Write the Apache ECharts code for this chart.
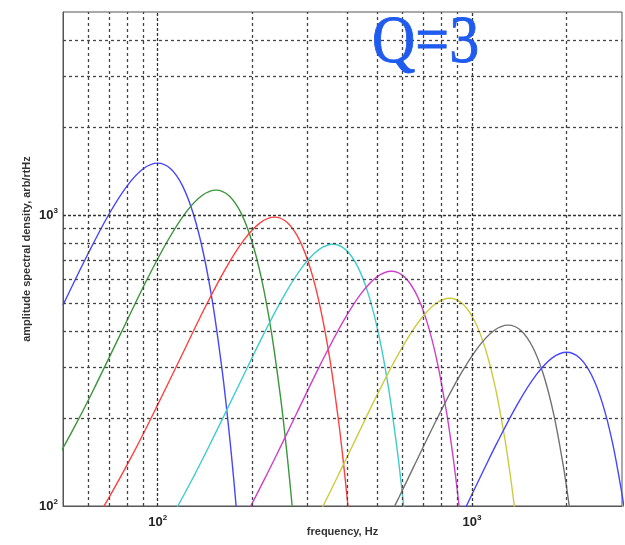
<!DOCTYPE html>
<html>
<head>
<meta charset="utf-8">
<script src="https://cdn.jsdelivr.net/npm/echarts@6/dist/echarts.min.js"></script>
<style>
  html, body { margin: 0; padding: 0; background: #ffffff; }
  #chart { width: 625px; height: 545px; }
</style>
</head>
<body>
<div id="chart"></div>
<script>
// Spectral density of eight Q=3 bands: [frequency Hz, amplitude]
const band1 = [[50,490.6],[60,735.6],[70,1007.8],[80,1262.1],[90,1444.5],[100,1511],[110,1444.5],[120,1262.1],[130,1007.8],[140,735.6],[150,490.6],[160,299.0],[165,225.7],[170,166.7],[175,120.3],[180,84.8],[185,58.5]];
const band2 = [[46.0,134.6],[53.7,182.3],[61.4,241.4],[76.7,396.1],[92.0,593.9],[107.4,813.7],[122.7,1019.1],[138.1,1166.3],[153.4,1220],[168.7,1166.3],[184.1,1019.1],[199.4,813.7],[214.8,593.9],[230.1,396.1],[245.4,241.4],[253.1,182.3],[260.8,134.6],[268.5,97.1],[276.1,68.4]];
const band3 = [[47.1,55.3],[58.8,78.4],[70.6,108.6],[82.4,147.2],[94.1,194.9],[117.7,319.8],[141.2,479.5],[164.7,657.0],[188.2,822.8],[211.8,941.7],[235.3,985],[258.8,941.7],[282.4,822.8],[305.9,657.0],[329.4,479.5],[353.0,319.8],[376.5,194.9],[388.2,147.2],[400.0,108.6],[411.8,78.4]];
const band4 = [[90.3,63.3],[108.3,87.7],[126.4,118.8],[144.4,157.3],[180.5,258.1],[216.6,387.0],[252.7,530.3],[288.8,664.1],[324.9,760.0],[361,795],[397.1,760.0],[433.2,664.1],[469.3,530.3],[505.4,387.0],[541.5,258.1],[577.6,157.3],[595.7,118.8],[613.7,87.7],[631.8,63.3]];
const band5 = [[138.5,51.1],[166.1,70.8],[193.8,95.9],[221.5,127.1],[249.2,164.5],[276.9,208.5],[332.3,312.5],[387.7,428.2],[443.0,536.3],[498.4,613.8],[553.8,642],[609.2,613.8],[664.6,536.3],[719.9,428.2],[775.3,312.5],[830.7,208.5],[858.4,164.5],[886.1,127.1],[913.8,95.9],[941.5,70.8]];
const band6 = [[254.9,57.1],[297.3,77.4],[339.8,102.5],[382.3,132.8],[424.8,168.2],[509.7,252.2],[594.7,345.5],[679.6,432.7],[764.6,495.2],[849.5,518],[934.5,495.2],[1019.4,432.7],[1104.4,345.5],[1189.3,252.2],[1274.3,168.2],[1316.7,132.8],[1359.2,102.5],[1401.7,77.4],[1444.2,57.1]];
const band7 = [[456.1,62.6],[521.2,82.9],[586.4,107.4],[651.5,136.0],[781.8,204.0],[912.1,279.5],[1042.4,350.0],[1172.7,400.6],[1303,419],[1433.3,400.6],[1563.6,350.0],[1693.9,279.5],[1824.2,204.0],[1954.5,136.0],[2019.7,107.4],[2084.8,82.9],[2150,62.6]];
const band8 = [[800,66.9],[900,86.6],[1000,109.7],[1100,135.9],[1200,164.5],[1400,225.4],[1600,282.3],[1800,323.1],[2000,338],[2200,323.1],[2400,282.3],[2600,225.4],[2800,164.5],[3000,109.7],[3100,86.6]];

const bands = [band1, band2, band3, band4, band5, band6, band7, band8];
const bandColors = ['#4646ff', '#3a963a', '#ff4040', '#40cccc', '#cc40cc', '#cccc40', '#727272', '#4646ff'];

// Grid line positions on both log axes
const freqGridTicks = [60, 70, 80, 90, 100, 200, 300, 400, 500, 600, 700, 800, 900, 1000, 2000];
const ampGridTicks = [200, 300, 400, 500, 600, 700, 800, 900, 1000, 2000, 3000, 4000];
const majorTicks = [100, 1000];

const chart = echarts.init(document.getElementById('chart'), null, { renderer: 'canvas' });

function isDecade(v) {
  const l = Math.log10(v);
  return Math.abs(l - Math.round(l)) < 1e-6;
}
function decadeLabel(v) {
  if (!isDecade(v)) return '';
  return '{b|10}{s|' + Math.round(Math.log10(v)) + '}';
}
const tickRich = {
  b: { fontSize: 13, fontWeight: 'bold', color: '#222', fontFamily: 'Liberation Sans', lineHeight: 17 },
  s: { fontSize: 8, fontWeight: 'bold', color: '#222', fontFamily: 'Liberation Sans', verticalAlign: 'top', lineHeight: 9 }
};

function gridLine(item, isMajor) {
  return Object.assign(item, {
    lineStyle: { color: isMajor ? '#333' : '#444', width: 1.3, type: isMajor ? [3, 2] : [3, 3] }
  });
}
const gridMarks = freqGridTicks.map(v => gridLine({ xAxis: v }, majorTicks.includes(v)))
  .concat(ampGridTicks.map(v => gridLine({ yAxis: v }, majorTicks.includes(v))));

const series = [{
  type: 'line',
  name: 'grid',
  data: [],
  z: 1,
  silent: true,
  markLine: {
    silent: true,
    symbol: ['none', 'none'],
    label: { show: false },
    emphasis: { disabled: true },
    animation: false,
    data: gridMarks
  }
}].concat(bands.map((b, i) => ({
  type: 'line',
  data: b,
  z: 3,
  smooth: 0.35,
  symbol: 'none',
  clip: true,
  lineStyle: { color: bandColors[i], width: 1.4 },
  itemStyle: { color: bandColors[i] },
  emphasis: { disabled: true }
})));

chart.setOption({
  animation: false,
  backgroundColor: '#ffffff',
  grid: {
    left: 63, top: 12, width: 559, height: 494,
    show: true, borderColor: '#555', borderWidth: 1, backgroundColor: 'transparent'
  },
  xAxis: {
    type: 'log', logBase: 10, min: 50, max: 3000,
    name: 'frequency, Hz', nameLocation: 'middle', nameGap: 20, nameMoveOverlap: false,
    nameTextStyle: { fontSize: 11, fontWeight: 'bold', color: '#333', fontFamily: 'Liberation Sans', verticalAlign: 'top' },
    axisLine: { show: true, lineStyle: { color: '#555', width: 1 } },
    axisTick: { show: false },
    splitLine: { show: false },
    minorTick: { show: false },
    axisLabel: { margin: 8, formatter: decadeLabel, rich: tickRich, showMinLabel: true, showMaxLabel: true }
  },
  yAxis: {
    type: 'log', logBase: 10, min: 100, max: 5000,
    name: 'amplitude spectral density, arb/rtHz', nameLocation: 'middle', nameGap: 31, nameRotate: 90, nameMoveOverlap: false,
    nameTextStyle: { fontSize: 11, fontWeight: 'bold', color: '#333', fontFamily: 'Liberation Sans', padding: [0, 0, 0, 20] },
    axisLine: { show: true, lineStyle: { color: '#555', width: 1 } },
    axisTick: { show: false },
    splitLine: { show: false },
    minorTick: { show: false },
    axisLabel: { margin: 5, formatter: decadeLabel, rich: tickRich }
  },
  graphic: [{
    type: 'text',
    x: 372, y: 44,
    scaleY: 1.12,
    z: 10,
    style: {
      text: 'Q=3',
      fontSize: 60,
      fontFamily: 'Liberation Serif',
      fill: '#1f5bef',
      stroke: '#1f5bef',
      lineWidth: 0.8,
      align: 'left',
      verticalAlign: 'middle'
    }
  }],
  series: series
});
</script>
</body>
</html>
